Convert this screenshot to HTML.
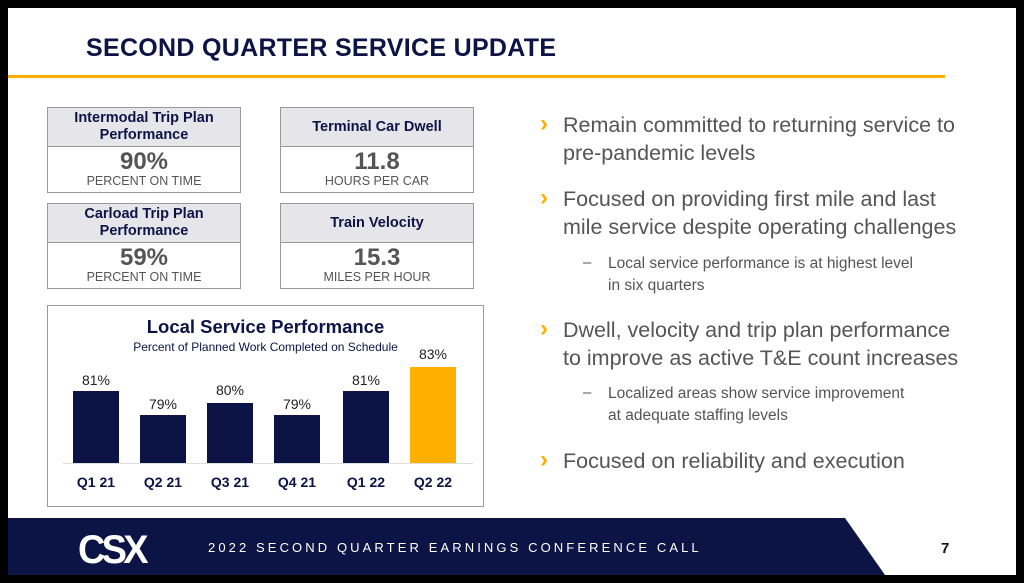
<!DOCTYPE html>
<html><head><style>
*{margin:0;padding:0;box-sizing:border-box}
body{width:1024px;height:583px;background:#000;position:relative;overflow:hidden;font-family:"Liberation Sans",Arial,sans-serif}
.slide{position:absolute;left:8px;top:8px;width:1008px;height:567px;background:#fff;overflow:hidden}
.a{position:absolute}
.title{left:78px;top:26px;font-size:25px;font-weight:bold;color:#0b1445;letter-spacing:0.3px}
.rule{left:0;top:67px;width:937px;height:3px;background:#fdb000}
.box{position:absolute;border:1.5px solid #999;background:#fff;width:194px;height:86px}
.box .h{height:39px;background:#e6e6ea;border-bottom:1.5px solid #999;display:flex;align-items:center;justify-content:center;text-align:center;font-weight:bold;font-size:14.5px;color:#0b1445;line-height:17px}
.box .v{text-align:center;font-weight:bold;font-size:24px;color:#555;line-height:25px;margin-top:2px}
.box .s{text-align:center;font-size:12.5px;color:#555;line-height:14px}
.chart{left:39px;top:297px;width:437px;height:202px;border:1.5px solid #999}
.bar{position:absolute;width:46px;background:#0b1445}
.bl{position:absolute;width:60px;text-align:center;font-size:14px;color:#222}
.xl{position:absolute;width:60px;text-align:center;font-size:14px;font-weight:bold;color:#0b1445;top:466px}
.bt{position:absolute;font-size:21.5px;color:#555;left:555px;line-height:28px}
.chev{position:absolute;left:532px;color:#fdb000;font-weight:bold;font-size:24px;line-height:28px}
.sub{position:absolute;left:600px;font-size:15.5px;color:#555;line-height:22px}
.dash{position:absolute;left:575px;font-size:15px;color:#555}
</style></head><body>
<div class="slide">
<div class="a title">SECOND QUARTER SERVICE UPDATE</div>
<div class="a rule"></div>

<div class="box" style="left:39px;top:99px"><div class="h">Intermodal Trip Plan<br>Performance</div><div class="v">90%</div><div class="s">PERCENT ON TIME</div></div>
<div class="box" style="left:272px;top:99px"><div class="h">Terminal Car Dwell</div><div class="v">11.8</div><div class="s">HOURS PER CAR</div></div>
<div class="box" style="left:39px;top:195px"><div class="h">Carload Trip Plan<br>Performance</div><div class="v">59%</div><div class="s">PERCENT ON TIME</div></div>
<div class="box" style="left:272px;top:195px"><div class="h">Train Velocity</div><div class="v">15.3</div><div class="s">MILES PER HOUR</div></div>

<div class="a chart"></div>
<div class="a" style="left:39px;top:308px;width:437px;text-align:center;font-weight:bold;font-size:18.5px;color:#0b1445">Local Service Performance</div>
<div class="a" style="left:39px;top:332px;width:437px;text-align:center;font-size:12px;color:#0b1445">Percent of Planned Work Completed on Schedule</div>
<div class="a" style="left:55px;top:455px;width:410px;height:1px;background:#ddd"></div>
<div class="bar" style="left:65px;top:383px;height:72px"></div>
<div class="bar" style="left:132px;top:407px;height:48px"></div>
<div class="bar" style="left:199px;top:395px;height:60px"></div>
<div class="bar" style="left:266px;top:407px;height:48px"></div>
<div class="bar" style="left:335px;top:383px;height:72px"></div>
<div class="bar" style="left:402px;top:359px;height:96px;background:#fdb000"></div>
<div class="bl" style="left:58px;top:364px">81%</div>
<div class="bl" style="left:125px;top:388px">79%</div>
<div class="bl" style="left:192px;top:374px">80%</div>
<div class="bl" style="left:259px;top:388px">79%</div>
<div class="bl" style="left:328px;top:364px">81%</div>
<div class="bl" style="left:395px;top:338px">83%</div>
<div class="xl" style="left:58px">Q1 21</div>
<div class="xl" style="left:125px">Q2 21</div>
<div class="xl" style="left:192px">Q3 21</div>
<div class="xl" style="left:259px">Q4 21</div>
<div class="xl" style="left:328px">Q1 22</div>
<div class="xl" style="left:395px">Q2 22</div>

<div class="chev" style="top:102px">›</div>
<div class="bt" style="top:103px">Remain committed to returning service to<br>pre-pandemic levels</div>
<div class="chev" style="top:176px">›</div>
<div class="bt" style="top:177px">Focused on providing first mile and last<br>mile service despite operating challenges</div>
<div class="dash" style="top:246px">–</div>
<div class="sub" style="top:245px">Local service performance is at highest level<br>in six quarters</div>
<div class="chev" style="top:307px">›</div>
<div class="bt" style="top:308px">Dwell, velocity and trip plan performance<br>to improve as active T&amp;E count increases</div>
<div class="dash" style="top:376px">–</div>
<div class="sub" style="top:375px">Localized areas show service improvement<br>at adequate staffing levels</div>
<div class="chev" style="top:438px">›</div>
<div class="bt" style="top:439px">Focused on reliability and execution</div>

<svg class="a" style="left:0;top:510px" width="1008" height="57"><polygon points="0,0 837,0 877,57 0,57" fill="#0b1445"/></svg>
<div class="a" style="left:70px;top:520px;font-size:40px;font-weight:900;color:#fff;letter-spacing:-4px;transform:scaleX(0.95);transform-origin:left">CSX</div>
<div class="a" style="left:200px;top:532px;font-size:13px;color:#fff;letter-spacing:3.1px">2022 SECOND QUARTER EARNINGS CONFERENCE CALL</div>
<div class="a" style="left:933px;top:532px;font-size:15px;font-weight:bold;color:#111">7</div>
</div>
</body></html>
